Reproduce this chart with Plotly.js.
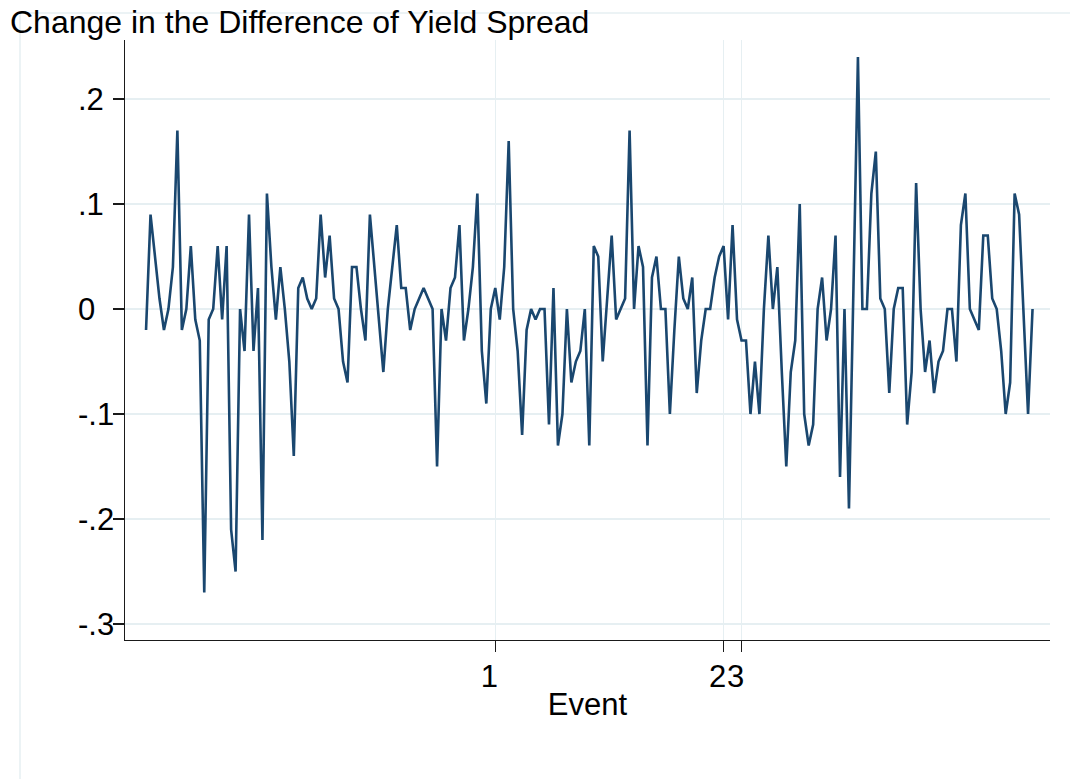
<!DOCTYPE html>
<html>
<head>
<meta charset="utf-8">
<script src="https://cdn.plot.ly/plotly-3.0.1.min.js"></script>
<style>
  html, body { margin: 0; padding: 0; background: #fff; }
  #chart { width: 1070px; height: 779px; }
</style>
</head>
<body>
<div id="chart"></div>
<script>
// change in the difference of yield spread, one value per observation
const spreadChange = [
  -0.02, 0.09, 0.05, 0.01, -0.02, 0.00, 0.04, 0.17, -0.02, 0.00,
   0.06, -0.01, -0.03, -0.27, -0.01, 0.00, 0.06, -0.01, 0.06, -0.21,
  -0.25, 0.00, -0.04, 0.09, -0.04, 0.02, -0.22, 0.11, 0.04, -0.01,
   0.04, 0.00, -0.05, -0.14, 0.02, 0.03, 0.01, 0.00, 0.01, 0.09,
   0.03, 0.07, 0.01, 0.00, -0.05, -0.07, 0.04, 0.04, 0.00, -0.03,
   0.09, 0.04, -0.01, -0.06, 0.00, 0.04, 0.08, 0.02, 0.02, -0.02,
   0.00, 0.01, 0.02, 0.01, 0.00, -0.15, 0.00, -0.03, 0.02, 0.03,
   0.08, -0.03, 0.00, 0.04, 0.11, -0.04, -0.09, 0.00, 0.02, -0.01,
   0.04, 0.16, 0.00, -0.04, -0.12, -0.02, 0.00, -0.01, 0.00, 0.00,
  -0.11, 0.02, -0.13, -0.10, 0.00, -0.07, -0.05, -0.04, 0.00, -0.13,
   0.06, 0.05, -0.05, 0.01, 0.07, -0.01, 0.00, 0.01, 0.17, 0.00,
   0.06, 0.04, -0.13, 0.03, 0.05, 0.00, 0.00, -0.10, -0.02, 0.05,
   0.01, 0.00, 0.03, -0.08, -0.03, 0.00, 0.00, 0.03, 0.05, 0.06,
  -0.01, 0.08, -0.01, -0.03, -0.03, -0.10, -0.05, -0.10, 0.00, 0.07,
   0.00, 0.04, -0.06, -0.15, -0.06, -0.03, 0.10, -0.10, -0.13, -0.11,
   0.00, 0.03, -0.03, 0.00, 0.07, -0.16, 0.00, -0.19, 0.02, 0.24,
   0.00, 0.00, 0.11, 0.15, 0.01, 0.00, -0.08, 0.00, 0.02, 0.02,
  -0.11, -0.06, 0.12, 0.00, -0.06, -0.03, -0.08, -0.05, -0.04, 0.00,
   0.00, -0.05, 0.08, 0.11, 0.00, -0.01, -0.02, 0.07, 0.07, 0.01,
   0.00, -0.04, -0.10, -0.07, 0.11, 0.09, 0.00, -0.10, 0.00
];
const obs = spreadChange.map((v, i) => i + 1);

// observations where the events fall, and their labels
const eventObs = [79, 130, 134];
const eventLabels = ['1', '2', '3'];

const yTicks = [0.2, 0.1, 0, -0.1, -0.2, -0.3];
const yTickLabels = ['.2', '.1', '0', '-.1', '-.2', '-.3'];

const FONT = 'Liberation Sans, Arial, sans-serif';
const GRID = '#e6eff2';
const AXIS = '#1a1a1a';

// pixel -> paper helpers (plot area 125..1050 x 40..640)
const px = x => (x - 125) / 925;
const py = y => (640 - y) / 600;

let trace = {
    x: obs, y: spreadChange, type: 'scatter', mode: 'lines',
    line: { color: '#1a476f', width: 2.6 }, hoverinfo: 'x+y'
};

// y labels are left aligned in the original, so draw them as annotations
let yLabelNotes = yTicks.map((v, i) => ({
    xref: 'paper', yref: 'y', x: px(76), y: v,
    xanchor: 'left', yanchor: 'middle', showarrow: false,
    text: yTickLabels[i], font: { family: FONT, size: 31, color: '#000' }
}));

let layout = {
    width: 1070, height: 779,
    margin: { l: 125, r: 20, t: 40, b: 139 },
    paper_bgcolor: '#fff', plot_bgcolor: '#fff',
    showlegend: false,
    font: { family: FONT, size: 31, color: '#000' },
    title: {
        text: 'Change in the Difference of Yield Spread',
        xref: 'container', yref: 'container',
        x: 10 / 1070, xanchor: 'left',
        y: 1 - 22 / 779, yanchor: 'middle',
        font: { family: FONT, size: 32, color: '#000' }
    },
    xaxis: {
        range: [-3.7, 202.9], fixedrange: true,
        tickmode: 'array', tickvals: eventObs, ticktext: eventLabels,
        ticks: 'outside', ticklen: 11, tickwidth: 1.4, tickcolor: AXIS,
        tickangle: 0, ticklabelshift: -6, ticklabelstandoff: -3,
        tickfont: { family: FONT, size: 31, color: '#000' },
        showgrid: true, gridcolor: GRID, gridwidth: 1.5,
        zeroline: false, showline: true, linecolor: AXIS, linewidth: 1.4,
        title: { text: 'Event', standoff: 0, font: { family: FONT, size: 31, color: '#000' } },
        automargin: false
    },
    yaxis: {
        range: [-0.3152, 0.2562], fixedrange: true,
        tickmode: 'array', tickvals: yTicks,
        ticks: 'outside', ticklen: 11, tickwidth: 1.4, tickcolor: AXIS,
        showticklabels: false,
        showgrid: true, gridcolor: GRID, gridwidth: 1.5,
        zeroline: false, showline: true, linecolor: AXIS, linewidth: 1.4,
        automargin: false
    },
    annotations: yLabelNotes,
    shapes: [
        // faint outer graph region frame
        { type: 'line', xref: 'paper', yref: 'paper', x0: px(20), x1: px(20), y0: py(13), y1: py(800),
          line: { color: GRID, width: 1.5 }, layer: 'below' },
        { type: 'line', xref: 'paper', yref: 'paper', x0: px(20), x1: px(1080), y0: py(13), y1: py(13),
          line: { color: GRID, width: 1.5 }, layer: 'below' }
    ]
};

Plotly.newPlot('chart', [trace], layout, { displayModeBar: false, staticPlot: true });
</script>
</body>
</html>
